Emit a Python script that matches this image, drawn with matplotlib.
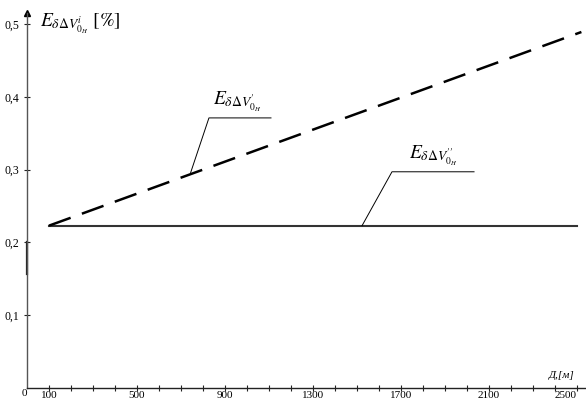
import matplotlib
matplotlib.use('Agg')
import matplotlib.pyplot as plt

# data
dist_solid = [100, 2500]
err_solid = [0.223, 0.223]
dist_dashed = [100, 2520]
err_dashed = [0.223, 0.489]

x_ticks = list(range(100, 2600, 100))
x_labelled = [100, 500, 900, 1300, 1700, 2100, 2500]
y_ticks = [0.1, 0.2, 0.3, 0.4, 0.5]
y_tick_labels = ['0,1', '0,2', '0,3', '0,4', '0,5']

plt.rcParams['font.family'] = ['Liberation Serif', 'DejaVu Serif']
plt.rcParams['mathtext.fontset'] = 'stix'

W, H = 586, 401
fig = plt.figure(figsize=(W / 100, H / 100), dpi=100)
# axes box: origin at pixel (27, 388), top edge of figure
ax = fig.add_axes([27 / W, 13 / H, (W - 27) / W, 388 / H])
ax.set_xlim(0, (W - 27) / 0.22)
ax.set_ylim(0, 388 / 728)

axis_col = '#555555'
for s in ['top', 'right']:
    ax.spines[s].set_visible(False)
ax.spines['left'].set_bounds(0, 0.515)
ax.spines['left'].set_color(axis_col)
ax.spines['bottom'].set_color('#222222')
ax.spines['left'].set_linewidth(1.0)
ax.spines['bottom'].set_linewidth(1.0)
ax.plot(0, 0.515, '^', color='black', ms=4, clip_on=False)
# darker stretch on the y axis seen in the picture
ax.plot([0, 0], [0.157, 0.2], color='#222222', lw=1.6, clip_on=False)

ax.set_xticks(x_ticks)
ax.set_xticklabels([str(t) if t in x_labelled else '' for t in x_ticks])
ax.set_yticks(y_ticks)
ax.set_yticklabels(y_tick_labels)
ax.tick_params(axis='both', direction='inout', length=5, width=0.8,
               color='#222222', labelsize=8.5)
ax.tick_params(axis='x', pad=0, labelsize=8)
ax.tick_params(axis='y', pad=3)
# last label sits at the right edge; keep it inside the figure
ax.get_xticklabels()[-1].set_horizontalalignment('right')

ax.text(-12, -0.002, '0', fontsize=8, ha='center', va='top', clip_on=False)

ax.plot(dist_solid, err_solid, color='#333333', lw=1.5, clip_on=False)
ln, = ax.plot(dist_dashed, err_dashed, color='black', lw=1.8, clip_on=False)
ln.set_dashes([9.2, 4.8])

# leader lines for the curve labels
ax.plot([1109, 827, 744], [0.371, 0.371, 0.296], color='black', lw=0.7)
ax.plot([2032, 1659, 1523], [0.297, 0.297, 0.223], color='black', lw=0.7)
ax.text(845, 0.376, r"$E_{\delta\Delta V^{\prime}_{0_H}}$", fontsize=14,
        ha='left', va='bottom')
ax.text(1735, 0.302, r"$E_{\delta\Delta V^{\prime\prime}_{0_H}}$", fontsize=14,
        ha='left', va='bottom')

fig.text(40 / W, 1 - 11 / H, r"$E_{\delta\Delta V^{i}_{0_H}}\ [\%]$", fontsize=14,
         ha='left', va='top')
fig.text(549 / W, 1 - 376 / H, 'Д,[м]', fontsize=8, style='italic',
         ha='left', va='center')

fig.savefig('out.png', dpi=100)
